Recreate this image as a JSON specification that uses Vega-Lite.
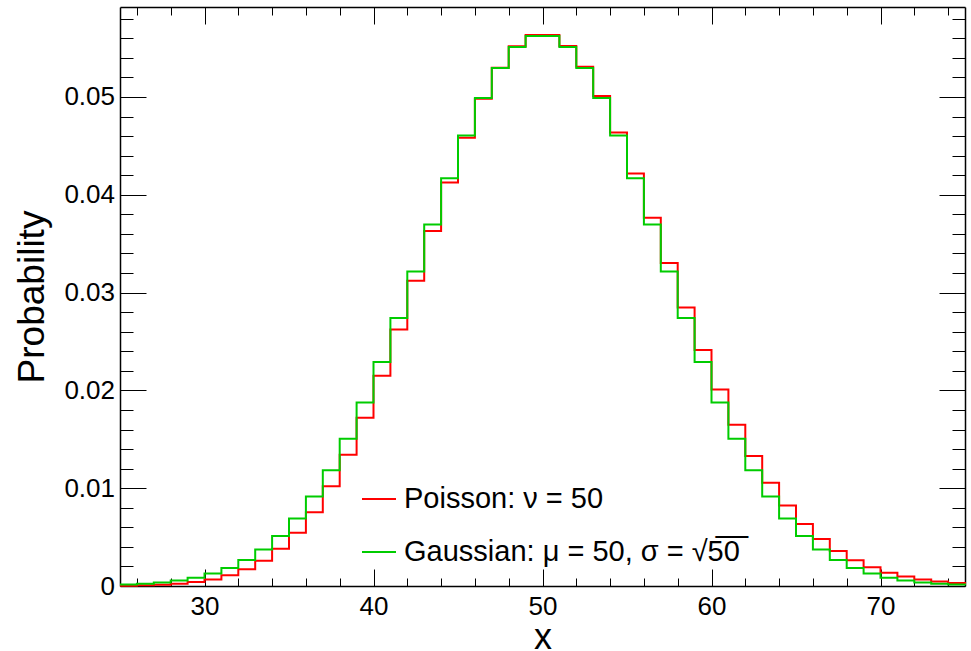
{
  "$schema": "https://vega.github.io/schema/vega-lite/v6.json",
  "width": 845,
  "height": 579,
  "autosize": {"type": "none"},
  "padding": {"left": 120, "top": 7, "right": 6, "bottom": 65},
  "background": "white",
  "config": {"view": {"stroke": null}, "font": "Liberation Sans"},
  "data": {
    "values": [
      {"x": 25, "poisson": 0.000037, "gauss": 0.000141},
      {"x": 26, "poisson": 0.0000711, "gauss": 0.000227},
      {"x": 27, "poisson": 0.000132, "gauss": 0.00036},
      {"x": 28, "poisson": 0.000236, "gauss": 0.000558},
      {"x": 29, "poisson": 0.000406, "gauss": 0.000849},
      {"x": 30, "poisson": 0.000677, "gauss": 0.001266},
      {"x": 31, "poisson": 0.001092, "gauss": 0.00185},
      {"x": 32, "poisson": 0.001707, "gauss": 0.00265},
      {"x": 33, "poisson": 0.002586, "gauss": 0.003721},
      {"x": 34, "poisson": 0.003803, "gauss": 0.005121},
      {"x": 35, "poisson": 0.005432, "gauss": 0.00691},
      {"x": 36, "poisson": 0.007545, "gauss": 0.009139},
      {"x": 37, "poisson": 0.010196, "gauss": 0.011847},
      {"x": 38, "poisson": 0.013416, "gauss": 0.015055},
      {"x": 39, "poisson": 0.0172, "gauss": 0.018753},
      {"x": 40, "poisson": 0.0215, "gauss": 0.022897},
      {"x": 41, "poisson": 0.02622, "gauss": 0.027403},
      {"x": 42, "poisson": 0.031214, "gauss": 0.03215},
      {"x": 43, "poisson": 0.036295, "gauss": 0.036972},
      {"x": 44, "poisson": 0.041244, "gauss": 0.041678},
      {"x": 45, "poisson": 0.045827, "gauss": 0.046054},
      {"x": 46, "poisson": 0.049812, "gauss": 0.049883},
      {"x": 47, "poisson": 0.052991, "gauss": 0.052962},
      {"x": 48, "poisson": 0.055199, "gauss": 0.05512},
      {"x": 49, "poisson": 0.056325, "gauss": 0.056231},
      {"x": 50, "poisson": 0.056325, "gauss": 0.056231},
      {"x": 51, "poisson": 0.055221, "gauss": 0.05512},
      {"x": 52, "poisson": 0.053097, "gauss": 0.052962},
      {"x": 53, "poisson": 0.050091, "gauss": 0.049883},
      {"x": 54, "poisson": 0.046381, "gauss": 0.046054},
      {"x": 55, "poisson": 0.042164, "gauss": 0.041678},
      {"x": 56, "poisson": 0.037646, "gauss": 0.036972},
      {"x": 57, "poisson": 0.033023, "gauss": 0.03215},
      {"x": 58, "poisson": 0.028468, "gauss": 0.027403},
      {"x": 59, "poisson": 0.024125, "gauss": 0.022897},
      {"x": 60, "poisson": 0.020104, "gauss": 0.018753},
      {"x": 61, "poisson": 0.016479, "gauss": 0.015055},
      {"x": 62, "poisson": 0.013289, "gauss": 0.011847},
      {"x": 63, "poisson": 0.010547, "gauss": 0.009139},
      {"x": 64, "poisson": 0.00824, "gauss": 0.00691},
      {"x": 65, "poisson": 0.006339, "gauss": 0.005121},
      {"x": 66, "poisson": 0.004802, "gauss": 0.003721},
      {"x": 67, "poisson": 0.003584, "gauss": 0.00265},
      {"x": 68, "poisson": 0.002635, "gauss": 0.00185},
      {"x": 69, "poisson": 0.00191, "gauss": 0.001266},
      {"x": 70, "poisson": 0.001364, "gauss": 0.000849},
      {"x": 71, "poisson": 0.000961, "gauss": 0.000558},
      {"x": 72, "poisson": 0.000667, "gauss": 0.00036},
      {"x": 73, "poisson": 0.000457, "gauss": 0.000227},
      {"x": 74, "poisson": 0.000309, "gauss": 0.000141},
      {"x": 75, "poisson": 0.000206, "gauss": 0.000085}
    ]
  },
  "layer": [
    {
      "mark": {"type": "line", "interpolate": "step-after", "strokeWidth": 2},
      "encoding": {
        "x": {
          "field": "x", "type": "quantitative",
          "scale": {"domain": [25, 75], "nice": false, "zero": false},
          "axis": {
            "orient": "bottom",
            "values": [26,28,30,32,34,36,38,40,42,44,46,48,50,52,54,56,58,60,62,64,66,68,70,72,74],
            "tickSize": {"condition": {"test": "datum.value % 10 === 0", "value": -17}, "value": -8},
            "tickColor": "black", "tickWidth": 1,
            "domain": true, "domainColor": "black", "domainWidth": 1.5,
            "grid": false,
            "labelExpr": "datum.value % 10 === 0 ? format(datum.value, 'd') : ''",
            "labelFont": "Liberation Sans", "labelFontSize": 26, "labelColor": "black",
            "labelPadding": 24.5, "labelOverlap": false, "labelFlush": false, "labelBound": false,
            "title": "x", "titleFont": "Liberation Sans", "titleFontSize": 36, "titleFontWeight": "normal", "titleColor": "black",
            "titleX": 422.5, "titleY": 62, "titleAlign": "center", "titleBaseline": "alphabetic"
          }
        },
        "y": {
          "field": "poisson", "type": "quantitative",
          "scale": {"domain": [0, 0.0592], "nice": false, "zero": true},
          "axis": {
            "orient": "left",
            "values": [0,0.002,0.004,0.006,0.008,0.01,0.012,0.014,0.016,0.018,0.02,0.022,0.024,0.026,0.028,0.03,0.032,0.034,0.036,0.038,0.04,0.042,0.044,0.046,0.048,0.05,0.052,0.054,0.056,0.058],
            "tickSize": {"condition": {"test": "abs(datum.value*100 - round(datum.value*100)) < 0.000001", "value": -26}, "value": -13},
            "tickColor": "black", "tickWidth": 1,
            "domain": true, "domainColor": "black", "domainWidth": 1.5,
            "grid": false,
            "labelExpr": "abs(datum.value*100 - round(datum.value*100)) < 0.000001 ? (datum.value == 0 ? '0' : format(datum.value, '.2f')) : ''",
            "labelFont": "Liberation Sans", "labelFontSize": 26, "labelColor": "black",
            "labelPadding": 31.5, "labelOverlap": false, "labelBound": false, "labelFlush": false,
            "title": "Probability", "titleFont": "Liberation Sans", "titleFontSize": 37, "titleFontWeight": "normal", "titleColor": "black",
            "titleX": -77, "titleY": 289.5, "titleAngle": -90, "titleAlign": "center", "titleBaseline": "alphabetic"
          }
        },
        "color": {
          "datum": "Poisson: ν = 50", "type": "nominal",
          "scale": {"domain": ["Poisson: ν = 50", "Gaussian: μ = 50, σ = √5̅0̅"], "range": ["#ff0000", "#00cc00"]},
          "legend": {
            "orient": "none", "legendX": 241, "legendY": 474, "title": null,
            "symbolType": "stroke", "symbolSize": 1156, "symbolStrokeWidth": 2,
            "labelFont": "Liberation Sans", "labelFontSize": 29, "labelColor": "black",
            "rowPadding": 20, "labelOffset": 7, "padding": 0, "symbolOffset": 0, "labelLimit": 0
          }
        }
      }
    },
    {
      "mark": {"type": "line", "interpolate": "step-after", "strokeWidth": 2},
      "encoding": {
        "x": {
          "field": "x", "type": "quantitative",
          "axis": {
            "orient": "top",
            "values": [26,28,30,32,34,36,38,40,42,44,46,48,50,52,54,56,58,60,62,64,66,68,70,72,74],
            "tickSize": {"condition": {"test": "datum.value % 10 === 0", "value": -17}, "value": -8},
            "tickColor": "black", "tickWidth": 1,
            "domain": true, "domainColor": "black", "domainWidth": 1.5,
            "grid": false, "labels": false, "title": null
          }
        },
        "y": {
          "field": "gauss", "type": "quantitative",
          "axis": {
            "orient": "right",
            "values": [0,0.002,0.004,0.006,0.008,0.01,0.012,0.014,0.016,0.018,0.02,0.022,0.024,0.026,0.028,0.03,0.032,0.034,0.036,0.038,0.04,0.042,0.044,0.046,0.048,0.05,0.052,0.054,0.056,0.058],
            "tickSize": {"condition": {"test": "abs(datum.value*100 - round(datum.value*100)) < 0.000001", "value": -26}, "value": -13},
            "tickColor": "black", "tickWidth": 1,
            "domain": true, "domainColor": "black", "domainWidth": 1.5,
            "grid": false, "labels": false, "title": null
          }
        },
        "color": {"datum": "Gaussian: μ = 50, σ = √5̅0̅", "type": "nominal"}
      }
    }
  ],
  "resolve": {"axis": {"x": "independent", "y": "independent"}}
}
